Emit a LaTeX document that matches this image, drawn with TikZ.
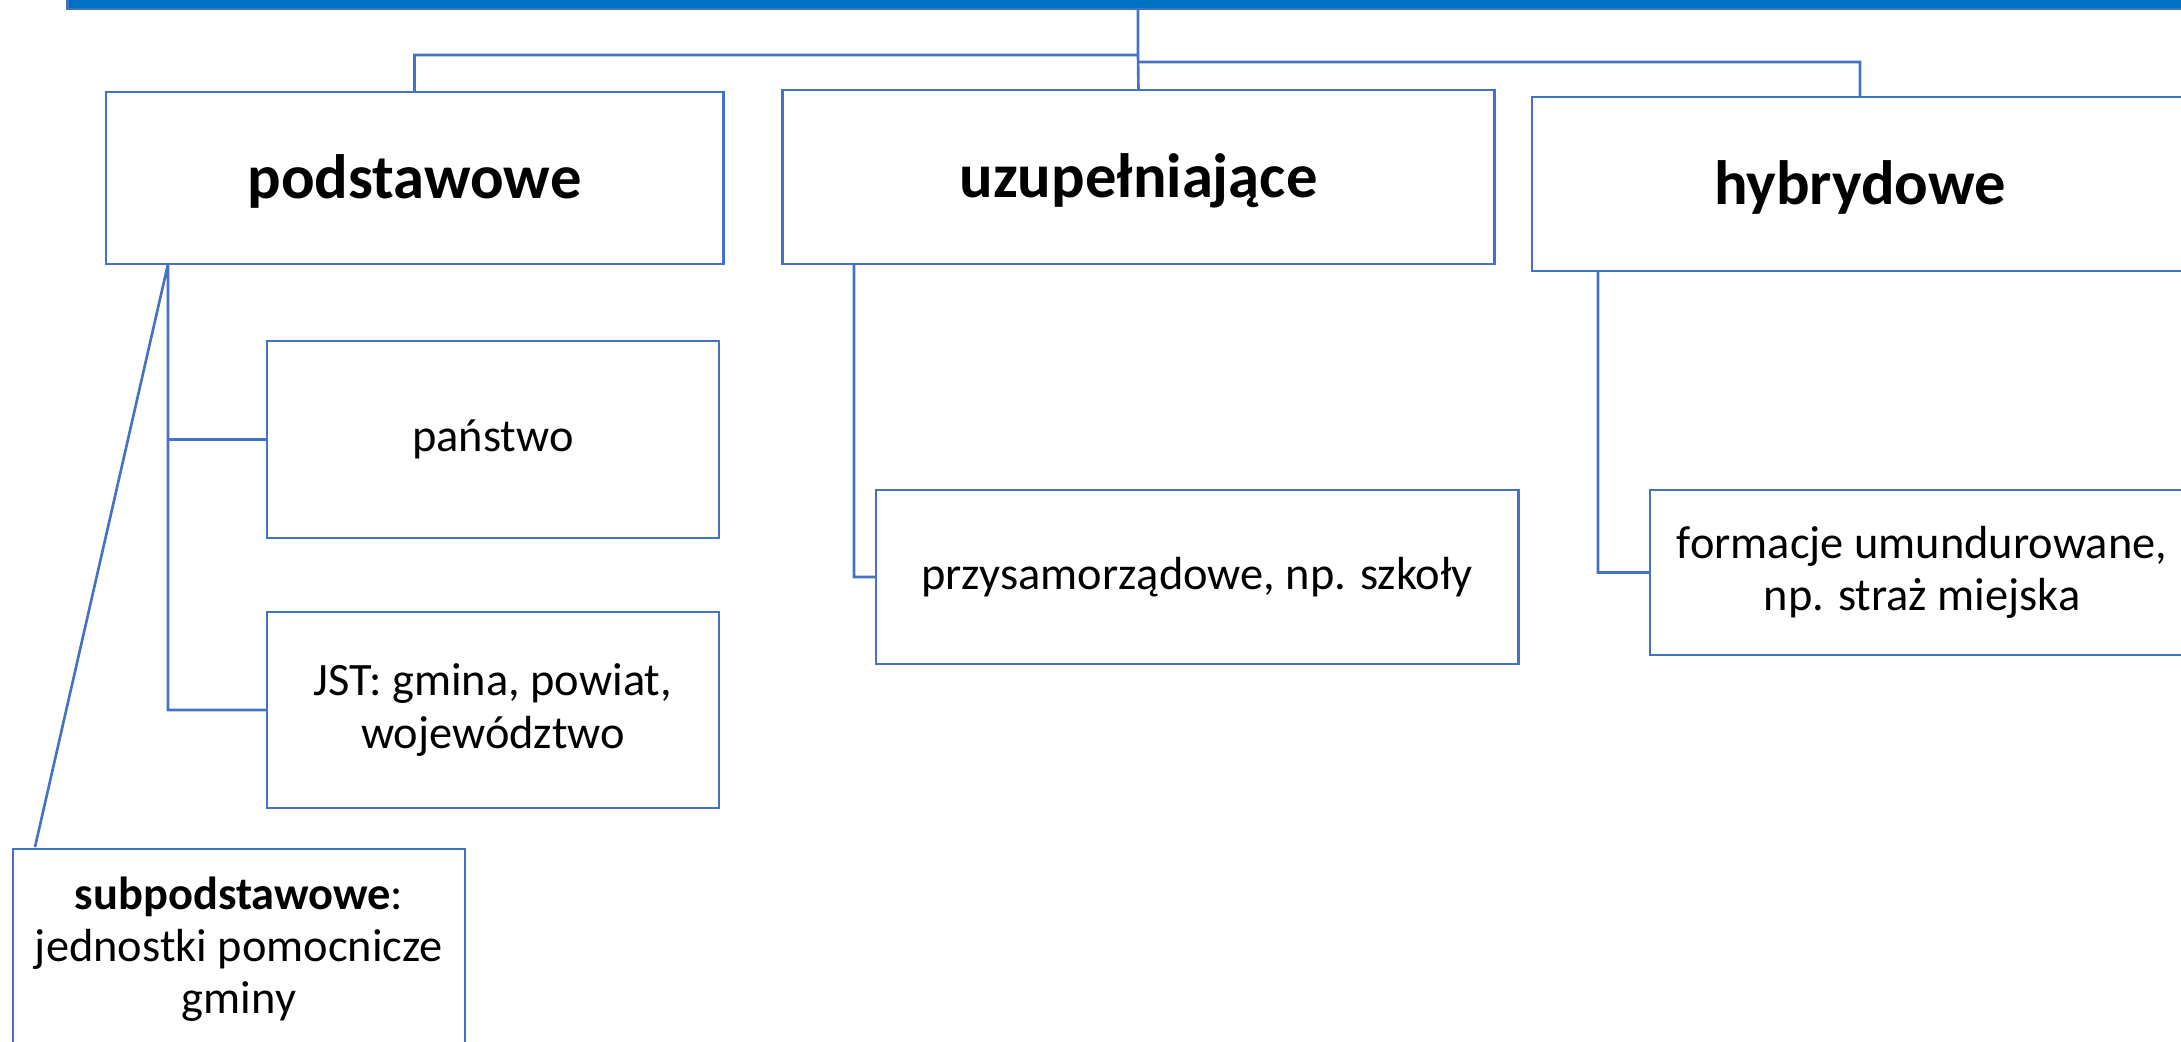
\documentclass[tikz,border=0pt]{standalone}
\usepackage{fontspec}
\usepackage{tikz}
\usepackage{xcolor}
\setmainfont{Carlito}
\definecolor{linkblue}{HTML}{4472C4}
\definecolor{barblue}{HTML}{0070C0}

\begin{document}
\begin{tikzpicture}[x=0.01cm, y=-0.01cm,
        box/.style={draw=linkblue, line width=0.75pt, fill=white, outer sep=0pt,
            inner sep=2pt, align=center, font=\fontsize{13.2}{14.8}\selectfont},
        titlebox/.style={box, text height=0.55cm, text depth=0.15cm,
            font=\fontsize{17.8}{20}\selectfont\bfseries},
        link/.style={draw=linkblue, line width=0.75pt}]
                \useasboundingbox (0, 0) rectangle (2181, 1041);
                \clip (0, 0) rectangle (2181, 1041);

                \node[draw=linkblue, fill=barblue, line width=0.75pt, outer sep=0pt,
                    minimum width=21.40cm, minimum height=1cm] (root) at (1138, -41) {};

                \node[titlebox, minimum width=6.17cm, minimum height=1.72cm] (pod) at (414.5, 178) {podstawowe};
                \node[titlebox, minimum width=7.11cm, minimum height=1.74cm] (uzu) at (1138.5, 177) {uzupełniające};
                \node[titlebox, minimum width=6.56cm, minimum height=1.74cm] (hyb) at (1860, 184) {hybrydowe};

                \node[box, minimum width=4.52cm, minimum height=1.97cm] (panstwo) at (493, 439.5) {państwo};
                \node[box, minimum width=4.52cm, minimum height=1.96cm] (jst) at (493, 710) {JST: gmina, powiat,\\województwo};
                \node[box, minimum width=4.52cm, minimum height=2.00cm] (sub) at (239, 949) {\textbf{subpodstawowe}:\\jednostki pomocnicze\\gminy};
                \node[box, minimum width=6.42cm, minimum height=1.74cm] (przy) at (1197, 577) {przysamorządowe, np. szkoły};
                \node[box, minimum width=5.44cm, minimum height=1.65cm] (form) at (1922, 572.5) {formacje umundurowane,\\np. straż miejska};

                \coordinate (j1) at (1138, 55);
                \coordinate (j2) at (1138, 62);
                \coordinate (p1) at (168, 264);
                \coordinate (s1) at (35, 847);
                \coordinate (u1) at (854, 264);
                \coordinate (h1) at (1598, 271);

                \draw[link]
                (root.south) -- (j1) -| (pod.north)
                (j1) -- (uzu.north)
                (j2) -| (hyb.north);

                \draw[link]
                (p1) |- (panstwo.west)
                (p1) |- (jst.west)
                (p1) -- (s1)
                (u1) |- (przy.west)
                (h1) |- (form.west);
            \end{tikzpicture}
\end{document}
